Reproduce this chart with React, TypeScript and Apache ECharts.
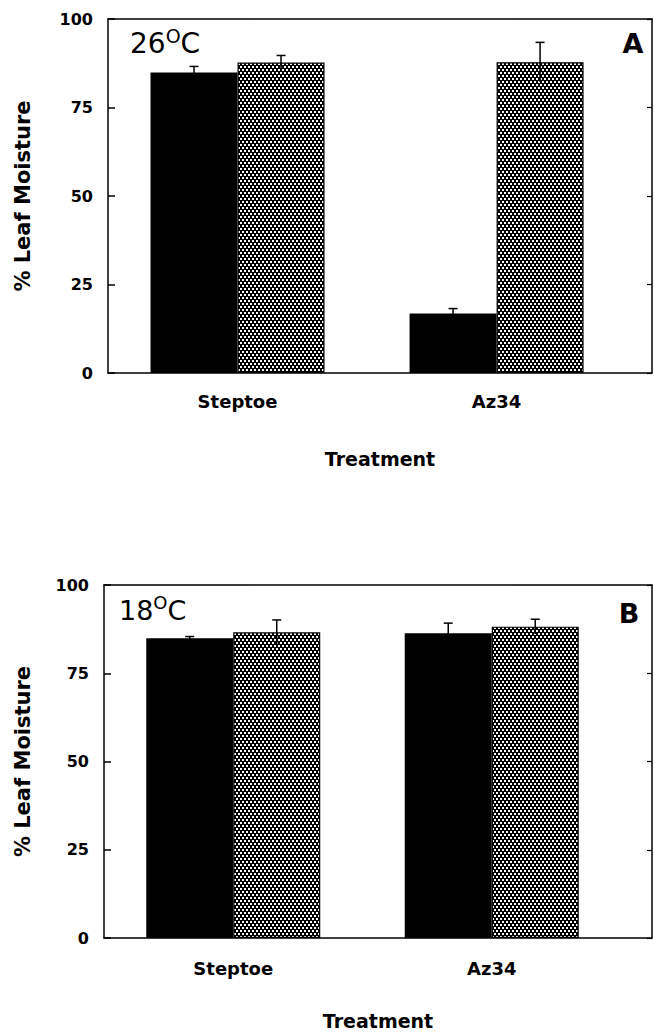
import React, { useEffect, useRef } from 'react';
import * as echarts from 'echarts';

// ---- data ----
const categories = ['Steptoe', 'Az34'];
// Panel A (26 °C)
const solidA = [84.9, 16.8];
const solidErrA = [1.7, 1.4];
const hatchA = [87.7, 87.8];
const hatchErrA = [2.0, 5.6];
// Panel B (18 °C)
const solidB = [84.9, 86.3];
const solidErrB = [0.5, 2.9];
const hatchB = [86.6, 88.2];
const hatchErrB = [3.5, 2.1];
const yTicks = [0, 25, 50, 75, 100];
const panelLabels = ['A', 'B'];
const tempLabels = ['26', '18'];

const FONT = 'DejaVu Sans';
const BAR_W = 87;

const tileSvg =
  "<svg xmlns='http://www.w3.org/2000/svg' width='4' height='6'>" +
  "<rect width='4' height='6' fill='#000'/>" +
  "<rect x='0' y='0' width='2' height='2' fill='#fff'/>" +
  "<rect x='2' y='3' width='2' height='2' fill='#fff'/></svg>";
const hatchFill: any = {
  image: 'data:image/svg+xml;utf8,' + encodeURIComponent(tileSvg),
  repeat: 'repeat',
  imageWidth: 4,
  imageHeight: 6,
};

function catFormatter(v: number) {
  const i = v - 0.5;
  return Number.isInteger(i) && categories[i] ? categories[i] : '';
}

function errSeries(xi: number, yi: number, means: number[], errs: number[], offset: number) {
  return {
    type: 'custom',
    xAxisIndex: xi,
    yAxisIndex: yi,
    silent: true,
    z: 10,
    encode: { x: 0, y: 1 },
    data: means.map((m, i) => [i + 0.5, m, errs[i]]),
    renderItem: (params: any, api: any) => {
      const x = api.value(0);
      const m = api.value(1);
      const e = api.value(2);
      const top = api.coord([x, m + e]);
      const bot = api.coord([x, m - e]);
      const cx = top[0] + offset;
      const st = { stroke: '#000', lineWidth: 1.5 };
      return {
        type: 'group',
        children: [
          { type: 'line', shape: { x1: cx, y1: top[1], x2: cx, y2: bot[1] }, style: st },
          { type: 'line', shape: { x1: cx - 4.5, y1: top[1], x2: cx + 4.5, y2: top[1] }, style: st },
        ],
      };
    },
  };
}

function barSeries(xi: number, yi: number, vals: number[], hatched: boolean) {
  return {
    type: 'bar',
    xAxisIndex: xi,
    yAxisIndex: yi,
    barWidth: BAR_W,
    barGap: '0%',
    data: vals.map((v, i) => [i + 0.5, v]),
    itemStyle: hatched
      ? { color: hatchFill, borderColor: '#000', borderWidth: 1.2 }
      : { color: '#000' },
  };
}

const axisLineStyle = { onZero: false, lineStyle: { color: '#000', width: 1.5 } };

function xAxes(grid: number, max: number, nameGap: number, labelMargin: number) {
  return [
    {
      type: 'value',
      gridIndex: grid,
      position: 'bottom',
      min: 0,
      max,
      interval: 0.5,
      axisLine: { show: true, ...axisLineStyle },
      axisTick: { show: false },
      splitLine: { show: false },
      axisLabel: {
        formatter: catFormatter,
        margin: labelMargin,
        fontFamily: FONT,
        fontWeight: 'bold',
        fontSize: 18,
        color: '#000',
        showMaxLabel: false,
      },
      name: 'Treatment',
      nameLocation: 'middle',
      nameGap,
      nameTextStyle: { fontFamily: FONT, fontWeight: 'bold', fontSize: 19, color: '#000' },
    },
    {
      type: 'value',
      gridIndex: grid,
      position: 'top',
      min: 0,
      max,
      axisLine: { show: true, ...axisLineStyle },
      axisTick: { show: false },
      axisLabel: { show: false },
      splitLine: { show: false },
    },
  ];
}

function yAxes(grid: number, nameGap: number) {
  const min = yTicks[0];
  const max = yTicks[yTicks.length - 1];
  const interval = yTicks[1] - yTicks[0];
  return [
    {
      type: 'value',
      gridIndex: grid,
      position: 'left',
      min,
      max,
      interval,
      axisLine: { show: true, ...axisLineStyle },
      axisTick: { show: true, inside: true, length: 7, lineStyle: { color: '#000', width: 1.5 } },
      splitLine: { show: false },
      axisLabel: { margin: 15, fontFamily: FONT, fontWeight: 'bold', fontSize: 16, color: '#000' },
      name: '% Leaf Moisture',
      nameLocation: 'middle',
      nameGap,
      nameTextStyle: { fontFamily: FONT, fontWeight: 'bold', fontSize: 21, color: '#000' },
    },
    {
      type: 'value',
      gridIndex: grid,
      position: 'right',
      min,
      max,
      interval,
      axisLine: { show: true, ...axisLineStyle },
      axisTick: { show: true, inside: true, length: 5, lineStyle: { color: '#000', width: 1.2 } },
      splitLine: { show: false },
      axisLabel: { show: false },
    },
  ];
}

function tempText(x: number, y: number, t: string, size: number) {
  return {
    type: 'text',
    x,
    y,
    style: {
      text: `{d|${t}}{s|O}{d|C}`,
      textVerticalAlign: 'middle',
      rich: {
        d: { fontFamily: FONT, fontSize: size, lineHeight: size + 6, color: '#000' },
        s: {
          fontFamily: FONT,
          fontSize: Math.round(size * 0.68),
          lineHeight: Math.round(size * 0.68),
          color: '#000',
          verticalAlign: 'top',
        },
      },
    },
  };
}

function panelText(x: number, y: number, t: string) {
  return {
    type: 'text',
    x,
    y,
    style: {
      text: t,
      fontFamily: FONT,
      fontWeight: 'bold',
      fontSize: 27,
      fill: '#000',
      textAlign: 'center',
      textVerticalAlign: 'middle',
    },
  };
}

export default function App() {
  const ref = useRef<HTMLDivElement>(null);
  useEffect(() => {
    document.body.style.margin = '0';
    if (!ref.current) return;
    const chart = echarts.init(ref.current, undefined, { renderer: 'svg' });
    chart.setOption({
      animation: false,
      backgroundColor: '#fff',
      grid: [
        { left: 108, right: 2, top: 19, height: 354 },
        { left: 104, right: 2, top: 585, height: 353 },
      ],
      xAxis: [...xAxes(0, 2.1, 76, 19), ...xAxes(1, 2.12, 73, 21)],
      yAxis: [...yAxes(0, 75), ...yAxes(1, 71)],
      series: [
        barSeries(0, 0, solidA, false),
        barSeries(0, 0, hatchA, true),
        errSeries(0, 0, solidA, solidErrA, -BAR_W / 2),
        errSeries(0, 0, hatchA, hatchErrA, BAR_W / 2),
        barSeries(2, 2, solidB, false),
        barSeries(2, 2, hatchB, true),
        errSeries(2, 2, solidB, solidErrB, -BAR_W / 2),
        errSeries(2, 2, hatchB, hatchErrB, BAR_W / 2),
      ],
      graphic: [
        tempText(130, 43, tempLabels[0], 28),
        panelText(633, 43, panelLabels[0]),
        tempText(119, 610, tempLabels[1], 27),
        panelText(629, 613, panelLabels[1]),
      ],
    });
    return () => chart.dispose();
  }, []);
  return <div ref={ref} style={{ width: 654, height: 1034 }} />;
}
